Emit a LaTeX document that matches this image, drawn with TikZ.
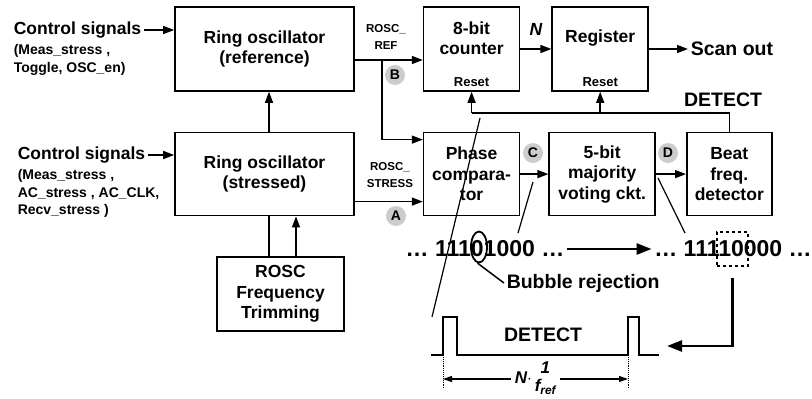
\documentclass[tikz,border=0pt]{standalone}
\usepackage{fontspec}
\setmainfont{Liberation Sans}
\usetikzlibrary{arrows.meta,positioning,shapes.geometric}
\definecolor{markgray}{RGB}{204,204,204}

\begin{document}
\begin{tikzpicture}[x=1pt,y=-1pt,line width=1.5pt,>={Triangle[length=11pt,width=8pt]},
  every node/.style={inner sep=2pt,font=\bfseries\fontsize{17.5}{20.5}\selectfont},
  blk/.style={draw,line width=1.6pt,inner sep=0pt,align=center,minimum height=83pt},
  sub/.style={align=left,font=\bfseries\fontsize{14}{17.5}\selectfont},
  sig/.style={align=center,font=\bfseries\fontsize{11.5}{17}\selectfont},
  rst/.style={font=\bfseries\fontsize{13}{13}\selectfont},
  ptmark/.style={circle,fill=markgray,minimum size=20pt,inner sep=0pt,font=\bfseries\fontsize{14}{14}\selectfont},
  big/.style={font=\bfseries\fontsize{19.5}{22}\selectfont},
  bits/.style={font=\bfseries\fontsize{23}{23}\selectfont},
  bigarr/.style={line width=2.6pt,-{Triangle[length=15pt,width=11pt]}}]
\useasboundingbox (0,0) rectangle (812,399);
\node[blk,minimum width=179pt,minimum height=84pt] (refosc) at (264.5,49) {Ring oscillator\\(reference)};
\node[blk,minimum width=179pt,below=40pt of refosc] (stresosc) {Ring oscillator\\(stressed)};
\node[blk,minimum width=96pt,minimum height=84pt,right=68pt of refosc] (counter) {};
\node[blk,minimum width=96pt,minimum height=84pt,right=31pt of counter] (register) {};
\node[blk,minimum width=96pt,below=40pt of counter] (phase) {Phase\\compara-\\tor};
\node[blk,minimum width=106pt,right=28pt of phase] (vote) {5-bit\\majority\\voting ckt.};
\node[blk,minimum width=85pt,right=30pt of vote] (beat) {Beat\\freq.\\detector};
\node[blk,minimum width=127pt,minimum height=74pt] (trim) at (280.5,294) {ROSC\\Frequency\\Trimming};
\node[align=center] (countertxt) at ([yshift=11pt]counter.center) {8-bit\\counter};
\node[rst] (counterrst) at ([yshift=-33pt]counter.center) {Reset};
\node (registertxt) at ([yshift=11pt]register.center) {Register};
\node[rst] (registerrst) at ([yshift=-33pt]register.center) {Reset};
\node[big,anchor=west] (scanout) at (688,49) {Scan out};

\node[anchor=west] (ctlref) at (11,30) {Control signals};
\node[sub,anchor=north west] (ctlrefsub) at (11,42) {(Meas\_stress ,\\Toggle, OSC\_en)};
\node[anchor=west] (ctlstr) at (15,155) {Control signals};
\node[sub,anchor=north west] (ctlstrsub) at (15,167) {(Meas\_stress ,\\AC\_stress , AC\_CLK,\\Recv\_stress )};
\draw[->] (ctlref.east) -- (ctlref.east -| refosc.west);
\draw[->] (ctlstr.east) -- (ctlstr.east -| stresosc.west);

\coordinate (refout) at ([yshift=-11pt]refosc.east);
\coordinate (jref) at ([xshift=27pt]refout);
\draw[->] (refout) -- (refout -| counter.west);
\draw[->] (jref) |- ([yshift=34.5pt]phase.west);
\draw[->] ([yshift=-27.5pt]stresosc.east) -- ([yshift=-27.5pt]phase.west);
\node[sig] (reflbl) at (386,37) {ROSC\_\\REF};
\node[sig] (strlbl) at (390,175) {ROSC\_\\STRESS};
\node[ptmark] (ptA) at (396,216) {A};
\node[ptmark] (ptB) at (395,75) {B};
\node[ptmark] (ptC) at (533,153) {C};
\node[ptmark] (ptD) at (668,153) {D};

\draw[->] ([xshift=4.5pt]stresosc.north) -- ([xshift=4.5pt]refosc.south);
\draw ([xshift=-11.5pt]trim.north) -- ([xshift=-11.5pt]trim.north |- stresosc.south);
\draw[->] ([xshift=15.5pt]trim.north) -- ([xshift=15.5pt]trim.north |- stresosc.south);

\draw[->] (counter) -- node[above=11pt]{\itshape N} (register);
\draw[->] (register) -- (scanout);
\draw[->] (phase) -- (vote);
\draw[->] (vote) -- (beat);

\coordinate (dtop) at ([yshift=19pt]beat.north);
\draw (beat.north) -- (dtop) -- (dtop -| counter.south);
\draw[->] (dtop -| counter.south) -- (counter.south);
\draw[->] (dtop -| register.south) -- (register.south);
\node[big] (detlbl) at (723,100) {DETECT};

\node[bits] (bits1) at (485,249) {… 11101000 …};
\node[bits] (bits2) at (733,249) {… 11110000 …};
\draw[bigarr] (bits1) -- (bits2);
\node[draw,ellipse,line width=1.8pt,minimum width=16pt,minimum height=31pt,inner sep=0pt] (bub) at (479,247) {};
\node[big,anchor=west] (bubtxt) at (504,283) {Bubble rejection};
\draw (bub.265) -- (bubtxt.west);
\node[draw,dashed,line width=1.2pt,minimum width=31pt,minimum height=34pt,inner sep=0pt] (win) at (732.5,249) {};
\coordinate (retend) at (667,346);
\draw[bigarr] ([yshift=-11pt]win.south) |- (retend);

\draw[line width=1.2pt] (480,118) -- (432,317);
\draw[line width=1.2pt] (533,182) -- (518,233);
\draw[line width=1.2pt] (658,178) -- (685,233);

\coordinate (p1) at (443,355);
\coordinate (p2) at (628,355);
\draw[line width=1.8pt] (431,355) -- (p1) -- ++(0,-38) -- ++(14,0) -- ++(0,38) -- (p2) -- ++(0,-38) -- ++(11,0) -- ++(0,38) -- ++(20,0);
\node[big] (pulselbl) at (543,335) {DETECT};
\draw[line width=0.9pt,densely dotted] (p1) -- ++(0,33);
\draw[line width=0.9pt,densely dotted] (p2) -- ++(0,33);
\draw[line width=1.1pt,{Triangle[length=9pt,width=6pt]}-{Triangle[length=9pt,width=6pt]}] ([yshift=-24pt]p1) -- node[fill=white,inner sep=4pt,font=\bfseries\itshape\fontsize{17}{17}\selectfont] (period) {N$\cdot$\,\begin{tabular}[c]{@{}c@{}}1\\[1pt]f\textsubscript{ref}\end{tabular}} ([yshift=-24pt]p2);
\end{tikzpicture}
\end{document}
